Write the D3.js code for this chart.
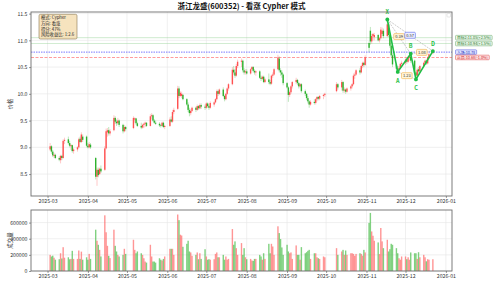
<!DOCTYPE html>
<html>
<head>
<meta charset="utf-8">
<script src="https://cdn.jsdelivr.net/npm/d3@7"></script>
<style>
body { margin: 0; background: #fff; }
svg { display: block; }
text { font-family: "Noto Sans CJK SC", "Noto Sans", sans-serif; }
</style>
</head>
<body>
<script>
// daily bars, 2025 (one line per month)
const dates = [
	"03-03","03-04","03-05","03-06","03-07","03-10","03-11","03-12","03-13","03-14","03-17","03-18","03-19","03-20","03-21","03-24","03-25","03-26","03-27","03-28","03-31",
	"04-01","04-02","04-03","04-07","04-08","04-09","04-10","04-11","04-14","04-15","04-16","04-17","04-18","04-21","04-22","04-23","04-24","04-25","04-28","04-29","04-30",
	"05-06","05-07","05-08","05-09","05-12","05-13","05-14","05-15","05-16","05-19","05-20","05-21","05-22","05-23","05-26","05-27","05-28","05-29","05-30",
	"06-03","06-04","06-05","06-06","06-09","06-10","06-11","06-12","06-13","06-16","06-17","06-18","06-19","06-20","06-23","06-24","06-25","06-26","06-27","06-30",
	"07-01","07-02","07-03","07-04","07-07","07-08","07-09","07-10","07-11","07-14","07-15","07-16","07-17","07-18","07-21","07-22","07-23","07-24","07-25","07-28","07-29","07-30","07-31",
	"08-01","08-04","08-05","08-06","08-07","08-08","08-11","08-12","08-13","08-14","08-15","08-18","08-19","08-20","08-21","08-22","08-25","08-26","08-27","08-28","08-29",
	"09-01","09-02","09-03","09-04","09-05","09-08","09-09","09-10","09-11","09-12","09-15","09-16","09-17","09-18","09-19","09-22","09-23","09-24","09-25","09-26","09-29","09-30",
	"10-09","10-10","10-13","10-14","10-15","10-16","10-17","10-20","10-21","10-22","10-23","10-24","10-27","10-28","10-29","10-30","10-31",
	"11-03","11-04","11-05","11-06","11-07","11-10","11-11","11-12","11-13","11-14","11-17","11-18","11-19","11-20","11-21","11-24","11-25","11-26","11-27","11-28",
	"12-01","12-02","12-03","12-04","12-05","12-08","12-09","12-10","12-11","12-12","12-15","12-16","12-17","12-18","12-19","12-22"
];
const opens = [
	8.96,9.02,8.92,8.84,8.86,8.80,8.76,8.84,8.80,9.12,9.15,9.08,9.02,9.04,8.93,8.96,9.00,9.16,9.10,9.20,9.20,
	9.03,9.00,9.05,8.80,8.45,8.58,8.50,8.60,8.58,8.98,9.28,9.32,9.26,9.32,9.55,9.48,9.45,9.50,9.42,9.30,9.38,
	9.36,9.52,9.54,9.45,9.40,9.37,9.42,9.44,9.46,9.40,9.58,9.60,9.50,9.46,9.44,9.41,9.40,9.46,9.38,
	9.40,9.52,9.48,9.66,9.72,10.10,9.96,9.96,9.98,9.90,9.80,9.70,9.64,9.68,9.74,9.70,9.77,9.73,9.79,9.76,
	9.74,9.82,9.77,9.74,9.80,9.84,9.90,10.05,10.00,10.08,9.96,9.90,10.00,10.10,10.18,10.45,10.40,10.34,10.52,10.60,10.62,10.44,10.40,
	10.42,10.38,10.46,10.50,10.43,10.40,10.42,10.30,10.28,10.32,10.22,10.27,10.22,10.19,10.34,10.36,10.46,10.66,10.44,10.40,10.36,
	10.20,10.12,9.98,10.03,10.14,10.22,10.26,10.20,10.14,10.18,10.05,10.00,9.92,9.86,9.80,9.85,9.83,9.90,9.94,9.91,9.96,9.98,
	10.05,10.18,10.12,10.22,10.06,10.08,10.04,10.10,10.14,10.18,10.34,10.36,10.44,10.40,10.52,10.58,10.54,
	10.95,11.18,10.98,11.08,11.06,11.10,11.00,11.04,11.12,11.18,11.08,11.30,11.10,10.90,10.72,10.55,10.47,10.45,10.48,10.56,
	10.58,10.64,10.60,10.68,10.70,10.62,10.40,10.34,10.46,10.42,10.52,10.58,10.62,10.57,10.68,10.76
];
const highs = [
	9.08,9.04,8.95,8.90,8.88,8.83,8.86,8.86,9.15,9.18,9.20,9.12,9.06,9.05,8.99,9.02,9.18,9.20,9.28,9.24,9.22,
	9.08,9.10,9.08,8.82,8.62,8.62,8.62,8.66,9.02,9.35,9.36,9.38,9.34,9.60,9.58,9.52,9.55,9.52,9.44,9.42,9.40,
	9.58,9.56,9.55,9.48,9.46,9.44,9.46,9.48,9.47,9.62,9.64,9.62,9.53,9.50,9.47,9.44,9.48,9.48,9.42,
	9.56,9.58,9.70,9.74,10.15,10.14,10.05,10.04,10.00,9.92,9.84,9.74,9.72,9.76,9.76,9.80,9.79,9.82,9.82,9.80,
	9.84,9.84,9.80,9.86,9.86,9.92,10.08,10.08,10.10,10.12,9.98,10.02,10.12,10.20,10.50,10.52,10.46,10.56,10.64,10.66,10.64,10.48,10.46,
	10.46,10.48,10.52,10.52,10.46,10.44,10.44,10.34,10.34,10.34,10.30,10.38,10.26,10.36,10.40,10.48,10.73,10.70,10.48,10.44,10.38,
	10.22,10.14,10.06,10.16,10.24,10.30,10.28,10.22,10.20,10.20,10.08,10.02,9.96,9.88,9.88,9.90,9.92,9.96,9.96,9.98,10.00,10.02,
	10.22,10.20,10.26,10.24,10.12,10.10,10.12,10.16,10.20,10.38,10.40,10.46,10.48,10.54,10.60,10.60,10.72,
	10.98,11.25,11.12,11.14,11.14,11.12,11.06,11.25,11.24,11.22,11.39,11.32,11.12,10.92,10.76,10.58,10.52,10.52,10.58,10.62,
	10.66,10.66,10.70,10.72,10.75,10.64,10.42,10.48,10.50,10.54,10.60,10.64,10.64,10.70,10.76,10.84
];
const lows = [
	8.93,8.88,8.82,8.80,8.78,8.74,8.70,8.76,8.79,9.06,9.05,9.00,8.95,8.90,8.88,8.92,8.98,9.08,9.08,9.10,9.00,
	8.98,8.98,8.97,8.40,8.28,8.44,8.48,8.52,8.56,8.96,9.20,9.22,9.22,9.30,9.44,9.40,9.42,9.38,9.26,9.28,9.30,
	9.34,9.46,9.42,9.38,9.34,9.35,9.36,9.38,9.38,9.39,9.52,9.48,9.44,9.42,9.38,9.37,9.39,9.36,9.34,
	9.38,9.46,9.46,9.62,9.70,9.92,9.94,9.92,9.88,9.78,9.66,9.58,9.60,9.66,9.66,9.68,9.70,9.71,9.72,9.70,
	9.72,9.74,9.70,9.72,9.76,9.82,9.88,9.96,9.98,9.94,9.86,9.88,9.98,10.06,10.16,10.36,10.30,10.32,10.48,10.50,10.40,10.36,10.36,
	10.36,10.36,10.44,10.40,10.36,10.34,10.28,10.24,10.26,10.20,10.20,10.18,10.16,10.17,10.30,10.34,10.44,10.40,10.34,10.30,10.16,
	10.10,9.85,9.94,10.00,10.10,10.18,10.16,10.10,10.12,10.02,9.96,9.88,9.82,9.74,9.78,9.80,9.80,9.86,9.88,9.88,9.90,9.94,
	10.03,10.08,10.06,10.02,10.02,10.00,10.02,10.06,10.10,10.16,10.28,10.34,10.36,10.38,10.48,10.50,10.52,
	10.78,10.92,10.94,11.00,11.00,10.98,10.96,11.02,11.08,11.04,11.06,11.06,10.86,10.68,10.50,10.44,10.41,10.42,10.46,10.50,
	10.54,10.56,10.58,10.62,10.58,10.36,10.27,10.32,10.38,10.40,10.50,10.54,10.54,10.55,10.66,10.74
];
const closes = [
	9.02,8.92,8.85,8.86,8.80,8.77,8.84,8.80,9.12,9.14,9.08,9.03,9.04,8.93,8.96,9.00,9.15,9.10,9.24,9.14,9.03,
	9.00,9.06,9.00,8.45,8.58,8.48,8.60,8.55,8.98,9.30,9.32,9.26,9.30,9.55,9.48,9.45,9.50,9.42,9.30,9.38,9.34,
	9.55,9.54,9.45,9.40,9.37,9.42,9.44,9.46,9.40,9.58,9.60,9.50,9.46,9.44,9.41,9.40,9.46,9.38,9.40,
	9.52,9.48,9.66,9.70,10.10,9.96,10.02,10.00,9.90,9.80,9.70,9.64,9.68,9.74,9.70,9.77,9.73,9.79,9.76,9.74,
	9.82,9.77,9.74,9.83,9.84,9.90,10.05,10.00,10.08,9.96,9.90,10.00,10.10,10.18,10.45,10.40,10.34,10.52,10.60,10.62,10.44,10.40,10.42,
	10.38,10.46,10.50,10.43,10.40,10.42,10.30,10.28,10.32,10.22,10.27,10.22,10.19,10.34,10.36,10.46,10.68,10.44,10.40,10.36,10.20,
	10.12,9.98,10.03,10.14,10.22,10.26,10.20,10.14,10.18,10.05,10.00,9.92,9.86,9.80,9.85,9.83,9.90,9.94,9.91,9.96,9.98,10.00,
	10.18,10.12,10.22,10.06,10.08,10.04,10.10,10.14,10.18,10.34,10.36,10.44,10.40,10.52,10.58,10.54,10.68,
	10.86,10.98,11.08,11.12,11.10,11.00,11.04,11.20,11.18,11.08,11.30,11.10,10.90,10.72,10.55,10.47,10.45,10.48,10.56,10.58,
	10.64,10.60,10.68,10.70,10.62,10.40,10.34,10.45,10.42,10.52,10.58,10.62,10.57,10.68,10.74,10.80
];
// volume, thousands of shares
const volumes = [
	200,180,190,165,140,146,220,155,295,165,170,145,150,250,150,150,254,150,240,140,170,
	140,212,150,512,375,325,262,180,690,480,312,188,160,512,312,242,200,180,200,275,212,
	387,262,220,242,220,200,158,117,104,325,180,117,117,104,158,140,130,150,180,
	275,275,275,200,700,630,450,440,300,337,375,242,230,188,200,230,146,220,150,270,
	180,140,146,140,146,212,230,170,170,200,140,180,140,150,520,325,367,283,200,346,200,283,170,
	146,150,130,125,150,150,200,180,140,220,150,337,220,337,304,200,554,470,396,292,200,
	325,242,220,230,150,317,200,200,140,296,220,233,250,262,150,220,220,170,158,150,180,170,
	283,200,242,262,200,254,200,220,220,212,188,212,220,212,190,262,230,
	596,720,490,437,375,354,210,533,367,283,387,242,270,337,325,283,220,158,140,180,
	180,146,170,140,230,220,220,150,233,170,200,170,120,146,140,146
];

// Cypher pattern points
const pointNames = ["X", "A", "B", "C", "D"];
const pointDates = ["11-17", "11-25", "12-05", "12-09", "12-22"];
const pointPrices = [11.39, 10.41, 10.75, 10.27, 10.80];
const ratioFrom = ["X", "X", "A", "B"];
const ratioTo = ["B", "D", "C", "D"];
const ratioValues = ["0.39", "0.57", "1.23", "1.08"];

// trade levels
const levelNames = ["目标2", "目标1", "入场", "止损"];
const levelValues = [11.05, 10.94, 10.78, 10.68];
const levelNotes = ["(+2.5%)", "(+1.5%)", "", "(-1.0%)"];

const infoLines = ["模式: Cypher", "方向: 看涨", "得分: 47%", "风险收益比: 1:2.6"];
const priceTicks = [8.5, 9.0, 9.5, 10.0, 10.5, 11.0, 11.5];
const volumeTicks = [0, 200000, 400000, 600000];

let svg = d3.select("body").append("svg")
	.attr("width", 500)
	.attr("height", 284);

let parseDay = d3.timeParse("%Y-%m-%d");
let day = s => parseDay("2025-" + s);

let data = dates.map((d, i) => ({
	date: day(d), o: opens[i], h: highs[i], l: lows[i], c: closes[i], v: volumes[i] * 1000
}));

let left = 31, right = 452;
let main = {top: 12, bottom: 196};
let vol = {top: 210, bottom: 271};

let ext = d3.extent(data, d => d.date);
let span = ext[1] - ext[0];
let x = d3.scaleTime()
	.domain([new Date(+ext[0] - span * 0.05), new Date(+ext[1] + span * 0.05)])
	.range([left, right]);

let y = d3.scaleLinear().domain([8.09, 11.53]).range([main.bottom, main.top]);
let yv = d3.scaleLinear().domain([0, d3.max(data, d => d.v) * 1.05]).range([vol.bottom, vol.top]);

let monthTicks = d3.timeMonth.range(new Date(2025, 2, 1), new Date(2026, 0, 2));
let fmtMonth = d3.timeFormat("%Y-%m");

let upColor = "#ff3b3b", downColor = "#13a813";
let colorOf = d => d.c >= d.o ? upColor : downColor;

// grids
function grid(yScale, ticks, top, bottom) {
	let g = svg.append("g").attr("stroke", "#e6e6e6").attr("stroke-width", 0.6);
	g.selectAll(".gx").data(monthTicks).enter().append("line")
		.attr("x1", d => x(d)).attr("x2", d => x(d))
		.attr("y1", top).attr("y2", bottom);
	g.selectAll(".gy").data(ticks).enter().append("line")
		.attr("x1", left).attr("x2", right)
		.attr("y1", d => yScale(d)).attr("y2", d => yScale(d));
}
grid(y, priceTicks, main.top, main.bottom);
grid(yv, volumeTicks, vol.top, vol.bottom);

// trade level lines
let levelStyle = [
	{stroke: "#8fd08f", dash: null, width: 0.7, fill: "#e9f6e9", edge: "#6aa86a", text: "#2b7a2b"},
	{stroke: "#8fd08f", dash: null, width: 0.7, fill: "#e9f6e9", edge: "#6aa86a", text: "#2b7a2b"},
	{stroke: "#5b5bff", dash: "1.5,1", width: 0.9, fill: "#dfe3ff", edge: "#4a55dd", text: "#2233bb"},
	{stroke: "#ff5a5a", dash: "3,1.5", width: 0.7, fill: "#ffe3e3", edge: "#dd4444", text: "#cc2222"}
];
levelValues.forEach((v, i) => {
	let s = levelStyle[i];
	svg.append("line")
		.attr("x1", left).attr("x2", right)
		.attr("y1", y(v)).attr("y2", y(v))
		.attr("stroke", s.stroke).attr("stroke-width", s.width)
		.attr("stroke-dasharray", s.dash)
		.attr("opacity", i < 2 ? 0.6 : 0.9);
});

// candles
let bw = 1.4;
let candles = svg.append("g");
candles.selectAll("line").data(data).enter().append("line")
	.attr("x1", d => x(d.date)).attr("x2", d => x(d.date))
	.attr("y1", d => y(d.h)).attr("y2", d => y(d.l))
	.attr("stroke", colorOf).attr("stroke-width", 0.9).attr("opacity", 0.3);
candles.selectAll("rect").data(data).enter().append("rect")
	.attr("x", d => x(d.date) - bw / 2)
	.attr("width", bw)
	.attr("y", d => y(Math.max(d.o, d.c)))
	.attr("height", d => Math.max(0.6, Math.abs(y(d.o) - y(d.c))))
	.attr("fill", colorOf).attr("opacity", 0.85);

// volume bars
svg.append("g").selectAll("rect").data(data).enter().append("rect")
	.attr("x", d => x(d.date) - bw / 2)
	.attr("width", bw)
	.attr("y", d => yv(d.v))
	.attr("height", d => yv(0) - yv(d.v))
	.attr("fill", d => d.c >= d.o ? "#ff5c5c" : "#3cb83c")
	.attr("opacity", 0.65);

// pattern
let pts = pointNames.map((n, i) => ({name: n, px: x(day(pointDates[i])), py: y(pointPrices[i])}));
let byName = {};
pts.forEach(p => byName[p.name] = p);

let pg = svg.append("g");
ratioFrom.forEach((f, i) => {
	let a = byName[f], b = byName[ratioTo[i]];
	pg.append("line")
		.attr("x1", a.px).attr("y1", a.py).attr("x2", b.px).attr("y2", b.py)
		.attr("stroke", "#aaaaaa").attr("stroke-width", 0.6)
		.attr("stroke-dasharray", "2,1");
});

let patternGreen = "#1fbf45";
pg.append("path")
	.attr("d", d3.line().x(d => d.px).y(d => d.py)(pts))
	.attr("fill", "none")
	.attr("stroke", patternGreen)
	.attr("stroke-width", 1.6);

pg.selectAll("circle").data(pts).enter().append("circle")
	.attr("cx", d => d.px).attr("cy", d => d.py).attr("r", 1.9)
	.attr("fill", patternGreen);

let below = {A: true, C: true};
pg.selectAll(".lbl").data(pts).enter().append("text")
	.attr("x", d => d.px)
	.attr("y", d => below[d.name] ? d.py + 11 : d.py - 5.5)
	.attr("text-anchor", "middle")
	.attr("font-size", 5.5)
	.attr("font-weight", "bold")
	.attr("fill", patternGreen)
	.text(d => d.name);

// ratio boxes at segment midpoints
ratioFrom.forEach((f, i) => {
	let a = byName[f], b = byName[ratioTo[i]];
	let mx = (a.px + b.px) / 2, my = (a.py + b.py) / 2;
	let blue = i === 1;
	pg.append("rect")
		.attr("x", mx - 5.3).attr("y", my - 3)
		.attr("width", 10.6).attr("height", 6)
		.attr("rx", 1)
		.attr("fill", blue ? "#eef0ff" : "#fff4d8")
		.attr("stroke", blue ? "#5566ee" : "#f2b24a")
		.attr("stroke-width", 0.6);
	pg.append("text")
		.attr("x", mx).attr("y", my + 1.4)
		.attr("text-anchor", "middle")
		.attr("font-size", 4)
		.attr("fill", "#333")
		.text(ratioValues[i]);
});

// level labels on the right
levelValues.forEach((v, i) => {
	let s = levelStyle[i];
	let g = svg.append("g");
	let t = g.append("text")
		.attr("x", 457).attr("y", y(v) + 1.4)
		.attr("font-size", 3.8)
		.attr("fill", s.text)
		.text(levelNames[i] + ":" + v.toFixed(2) + levelNotes[i]);
	let w = t.node().getComputedTextLength();
	g.insert("rect", "text")
		.attr("x", 455.5).attr("y", y(v) - 2.3)
		.attr("width", w + 3).attr("height", 4.6)
		.attr("rx", 0.8)
		.attr("fill", s.fill).attr("stroke", s.edge).attr("stroke-width", 0.5);
});

// frames
[main, vol].forEach(p => {
	svg.append("rect")
		.attr("x", left).attr("y", p.top)
		.attr("width", right - left).attr("height", p.bottom - p.top)
		.attr("fill", "none").attr("stroke", "#6e6e6e").attr("stroke-width", 0.9);
});

// empty legend box
svg.append("rect")
	.attr("x", 447).attr("y", 13.5).attr("width", 3.5).attr("height", 3.5)
	.attr("rx", 0.6).attr("fill", "#fff").attr("stroke", "#cccccc").attr("stroke-width", 0.5);

// axes
function styleAxis(g) {
	g.select(".domain").remove();
	g.selectAll(".tick line").attr("stroke", "#555").attr("stroke-width", 0.6);
	g.selectAll(".tick text").attr("fill", "#333").attr("font-size", 5.2)
		.attr("font-family", "'Noto Sans CJK SC', 'Noto Sans', sans-serif");
}
svg.append("g").attr("transform", `translate(${left},0)`)
	.call(d3.axisLeft(y).tickValues(priceTicks).tickFormat(d3.format(".1f")).tickSize(2).tickPadding(1.5))
	.call(styleAxis);
svg.append("g").attr("transform", `translate(${left},0)`)
	.call(d3.axisLeft(yv).tickValues(volumeTicks).tickFormat(d3.format("d")).tickSize(2).tickPadding(1.5))
	.call(styleAxis);
svg.append("g").attr("transform", `translate(0,${main.bottom})`)
	.call(d3.axisBottom(x).tickValues(monthTicks).tickFormat(fmtMonth).tickSize(2).tickPadding(1.8))
	.call(styleAxis);
svg.append("g").attr("transform", `translate(0,${vol.bottom})`)
	.call(d3.axisBottom(x).tickValues(monthTicks).tickFormat(fmtMonth).tickSize(2).tickPadding(1.8))
	.call(styleAxis);

// axis titles
svg.append("text")
	.attr("transform", `translate(11.5,${(main.top + main.bottom) / 2}) rotate(-90)`)
	.attr("text-anchor", "middle").attr("font-size", 5.5).attr("fill", "#333")
	.text("价格");
svg.append("text")
	.attr("transform", `translate(11.5,${(vol.top + vol.bottom) / 2}) rotate(-90)`)
	.attr("text-anchor", "middle").attr("font-size", 5.5).attr("fill", "#333")
	.text("成交量");

// title
svg.append("text")
	.attr("x", (left + right) / 2).attr("y", 8.8)
	.attr("text-anchor", "middle")
	.attr("font-size", 7.5).attr("font-weight", "bold").attr("fill", "#111")
	.text("浙江龙盛(600352) - 看涨 Cypher 模式");

// info box
svg.append("rect")
	.attr("x", 39).attr("y", 14.3).attr("width", 38).attr("height", 24.7)
	.attr("rx", 1.5)
	.attr("fill", "#f5deb3").attr("fill-opacity", 0.85)
	.attr("stroke", "#8a7650").attr("stroke-width", 0.6);
svg.append("g").selectAll("text").data(infoLines).enter().append("text")
	.attr("x", 41).attr("y", (d, i) => 19 + i * 5.8)
	.attr("font-size", 4.3).attr("fill", "#222")
	.text(d => d);
</script>
</body>
</html>
